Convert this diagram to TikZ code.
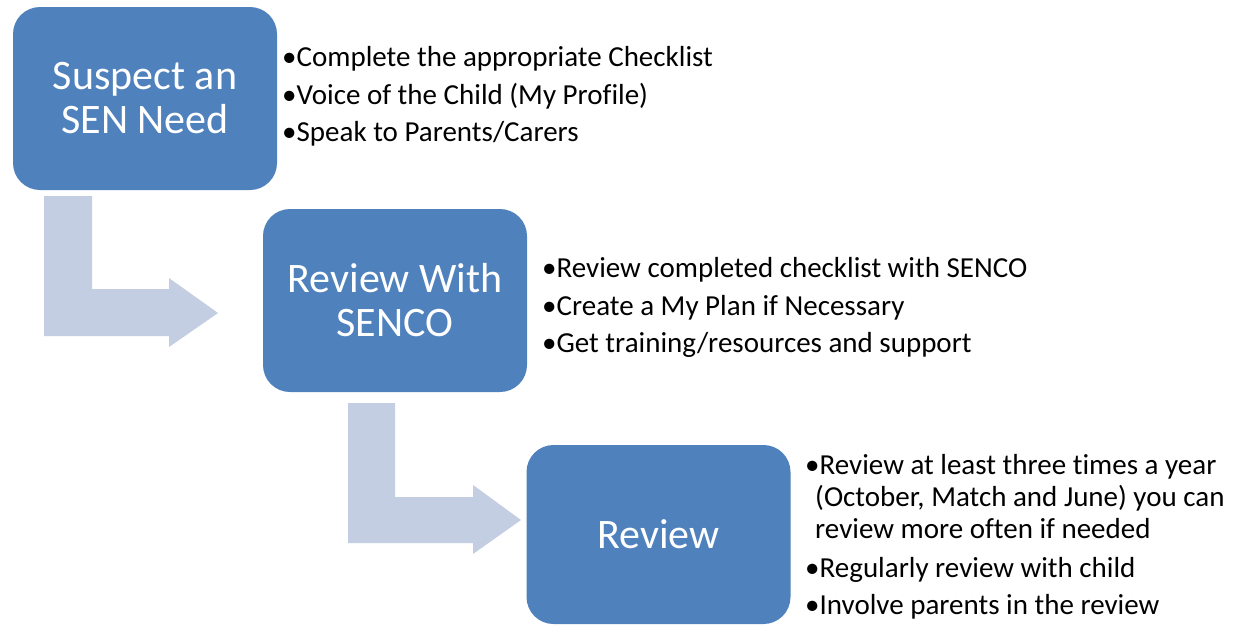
\documentclass[tikz,border=0pt]{standalone}
\usepackage{fontspec}
\setmainfont{Carlito}[Ligatures=NoCommon]
\definecolor{boxblue}{HTML}{4F81BD}
\definecolor{arrowblue}{HTML}{C4CEE3}
\tikzset{
  stagebox/.style={fill=boxblue, draw=none, rounded corners=27pt, minimum width=264pt, minimum height=183pt, text=white, align=center, inner sep=0pt, font=\fontsize{42}{44}\selectfont},
  bentarrow/.style={fill=arrowblue, draw=none},
  bulletline/.style={anchor=base west, inner sep=0pt, text=black, font=\fontsize{29}{35}\selectfont},
}
\begin{document}
\begin{tikzpicture}[x=1pt,y=-1pt]
\useasboundingbox (0,0) rectangle (1238,625);
\fill[white] (0,0) rectangle (1238,625);
% bent arrows
\fill[bentarrow] (44,196) -- (92,196) -- (92,289) -- (169,289) -- (169,278) -- (218,313) -- (169,347) -- (169,336) -- (44,336) -- cycle;
\fill[bentarrow] (348,403) -- (395,403) -- (395,497) -- (473,497) -- (473,485) -- (521,520) -- (473,554) -- (473,543) -- (348,543) -- cycle;
% boxes
\node[stagebox] (b1) at (145,98.5) {Suspect an\\SEN Need};
\node[stagebox] (b2) at (395,300.5) {Review With\\SENCO};
\node[stagebox, minimum height=179pt] (b3) at (658.5,534.5) {Review};
% list 1
\node[bulletline] (l1a) at (282,66) {•Complete the appropriate Checklist};
\node[bulletline] (l1b) at (282,104) {•Voice of the Child (My Profile)};
\node[bulletline] (l1c) at (282,141) {•Speak to Parents/Carers};
% list 2
\node[bulletline] (l2a) at (542,277) {•Review completed checklist with SENCO};
\node[bulletline] (l2b) at (542,315) {•Create a My Plan if Necessary};
\node[bulletline] (l2c) at (542,352) {•Get training/resources and support};
% list 3
\node[bulletline] (l3a) at (805,474) {•Review at least three times a year};
\node[bulletline] (l3a2) at (815,506) {(October, Match and June) you can};
\node[bulletline] (l3a3) at (815,538) {review more often if needed};
\node[bulletline] (l3b) at (805,577) {•Regularly review with child};
\node[bulletline] (l3c) at (805,614) {•Involve parents in the review};
\end{tikzpicture}
\end{document}
